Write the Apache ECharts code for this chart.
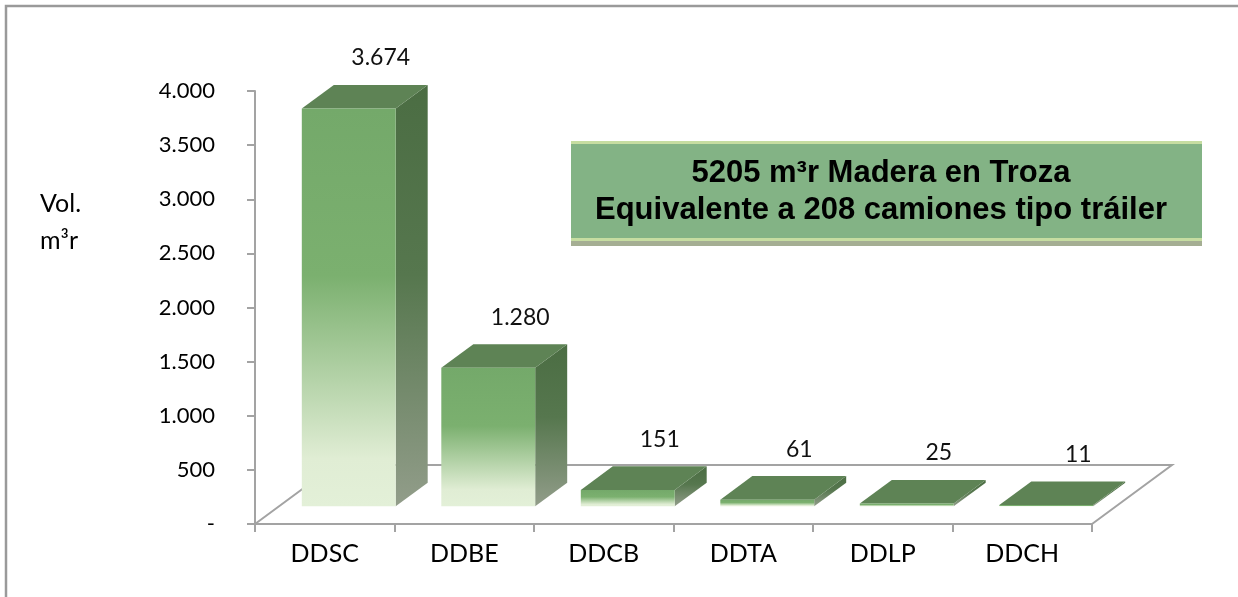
<!DOCTYPE html>
<html>
<head>
<meta charset="utf-8">
<title>Volumen madera en troza</title>
<script src="https://cdn.jsdelivr.net/npm/echarts@6/dist/echarts.min.js"></script>
<style>
  html, body { margin: 0; padding: 0; background: #fff; }
  #main { width: 1238px; height: 597px; }
</style>
</head>
<body>
<div id="main"></div>
<script>
// datos
const categorias = ['DDSC', 'DDBE', 'DDCB', 'DDTA', 'DDLP', 'DDCH'];
const volumenes = [3674, 1280, 151, 61, 25, 11];
const yTicks = [0, 500, 1000, 1500, 2000, 2500, 3000, 3500, 4000];
const nombreEje = ['Vol.', 'm³r'];
const recuadro = ['5205 m³r Madera en Troza', 'Equivalente a 208 camiones tipo tráiler'];

const FONT = 'Lato';
// profundidad del piso (pixeles) y posicion de la barra dentro de ella
const DEPTH = [80, -59];
const D_FRONT = 0.3, D_BACK = 0.7;

const fmt = (v) => {
  if (v === 0) return '-';
  return String(v).replace(/\B(?=(\d{3})+(?!\d))/g, '.');
};

const renderBar = (params, api) => {
  const idx = api.value(0);
  const val = api.value(1);
  const base = api.coord([idx, 0]);
  const top = api.coord([idx, val]);
  const band = api.size([1, 0])[0];
  const w = band * 0.673;
  const fx = DEPTH[0] * D_FRONT, fy = DEPTH[1] * D_FRONT;
  const bx = DEPTH[0] * D_BACK, by = DEPTH[1] * D_BACK;
  const L = base[0] - w / 2, R = base[0] + w / 2;
  const yT = top[1], yB = base[1];
  return {
    type: 'group',
    children: [
      { // cara lateral
        type: 'polygon',
        shape: { points: [[R + fx, yT + fy], [R + bx, yT + by], [R + bx, yB + by], [R + fx, yB + fy]] },
        style: {
          fill: { type: 'linear', x: 0, y: 0, x2: 0, y2: 1, colorStops: [
            { offset: 0, color: '#4b6d43' }, { offset: 0.45, color: '#56774e' }, { offset: 1, color: '#929d8a' }] }
        }
      },
      { // cara superior
        type: 'polygon',
        shape: { points: [[L + fx, yT + fy], [R + fx, yT + fy], [R + bx, yT + by], [L + bx, yT + by]] },
        style: { fill: '#5e8355' }
      },
      { // cara frontal
        type: 'rect',
        shape: { x: L + fx, y: yT + fy, width: w, height: Math.max(yB - yT, 0.5) },
        style: {
          fill: { type: 'linear', x: 0, y: 0, x2: 0, y2: 1, colorStops: [
            { offset: 0, color: '#74a96a' }, { offset: 0.42, color: '#7bb06f' },
            { offset: 0.88, color: '#e0edd4' }, { offset: 1, color: '#e3f0d8' }] }
        }
      },
      {
        type: 'text',
        style: {
          text: fmt(val), x: base[0] + bx, y: yT + by - 27,
          align: 'center', verticalAlign: 'middle',
          font: '23px ' + FONT, fill: '#111'
        }
      }
    ]
  };
};

const renderFloor = (params, api) => {
  const cs = params.coordSys;
  const x = cs.x, yb = cs.y + cs.height, w = cs.width;
  return {
    type: 'polyline',
    shape: { points: [[x, yb], [x + DEPTH[0], yb + DEPTH[1]], [x + w + DEPTH[0], yb + DEPTH[1]], [x + w, yb]] },
    style: { stroke: '#a3a3a3', lineWidth: 2, fill: null }
  };
};

const chart = echarts.init(document.getElementById('main'), null, { renderer: 'canvas' });
chart.setOption({
  animation: false,
  grid: { left: 255, right: 146, top: 91, bottom: 73 },
  xAxis: {
    type: 'category',
    data: categorias,
    axisLine: { lineStyle: { color: '#a3a3a3', width: 2 } },
    axisTick: { show: true, length: 8, lineStyle: { color: '#a3a3a3', width: 2 } },
    axisLabel: { color: '#000', fontFamily: FONT, fontSize: 25, margin: 17 }
  },
  yAxis: {
    type: 'value',
    min: yTicks[0],
    max: yTicks[yTicks.length - 1],
    interval: yTicks[1] - yTicks[0],
    splitLine: { show: false },
    axisLine: { show: true, lineStyle: { color: '#a3a3a3', width: 2 } },
    axisTick: { show: true, length: 8, lineStyle: { color: '#a3a3a3', width: 2 } },
    axisLabel: { color: '#000', fontFamily: FONT, fontSize: 22, margin: 40, formatter: fmt }
  },
  graphic: [
    { type: 'rect', shape: { x: 6, y: 6, width: 1260, height: 620 }, style: { fill: null, stroke: '#9a9a9a', lineWidth: 2.5 }, silent: true },
    { type: 'text', left: 40, top: 191, style: { text: nombreEje[0], font: '25px ' + FONT, fill: '#000' } },
    { type: 'text', left: 40, top: 228, style: { text: nombreEje[1], font: '25px ' + FONT, fill: '#000' } },
    {
      type: 'group', left: 571, top: 141,
      children: [
        { type: 'rect', shape: { x: 0, y: 0, width: 631, height: 105 }, style: { fill: '#a5ae93' } },
        { type: 'rect', shape: { x: 0, y: 0, width: 631, height: 100 }, style: { fill: '#c6dda1' } },
        { type: 'rect', shape: { x: 0, y: 3, width: 631, height: 94 }, style: { fill: '#83b385' } },
        { type: 'text', style: { text: recuadro[0], x: 310, y: 32, align: 'center', verticalAlign: 'middle', font: 'bold 31px "Liberation Sans", Arial', fill: '#000' } },
        { type: 'text', style: { text: recuadro[1], x: 310, y: 69, align: 'center', verticalAlign: 'middle', font: 'bold 31px "Liberation Sans", Arial', fill: '#000' } }
      ]
    }
  ],
  series: [
    { type: 'custom', name: 'piso', z: 1, renderItem: renderFloor, data: [[0]], silent: true },
    {
      type: 'custom', name: 'volumen', z: 3,
      renderItem: renderBar,
      data: volumenes.map((v, i) => [i, v])
    }
  ]
});
</script>
</body>
</html>
